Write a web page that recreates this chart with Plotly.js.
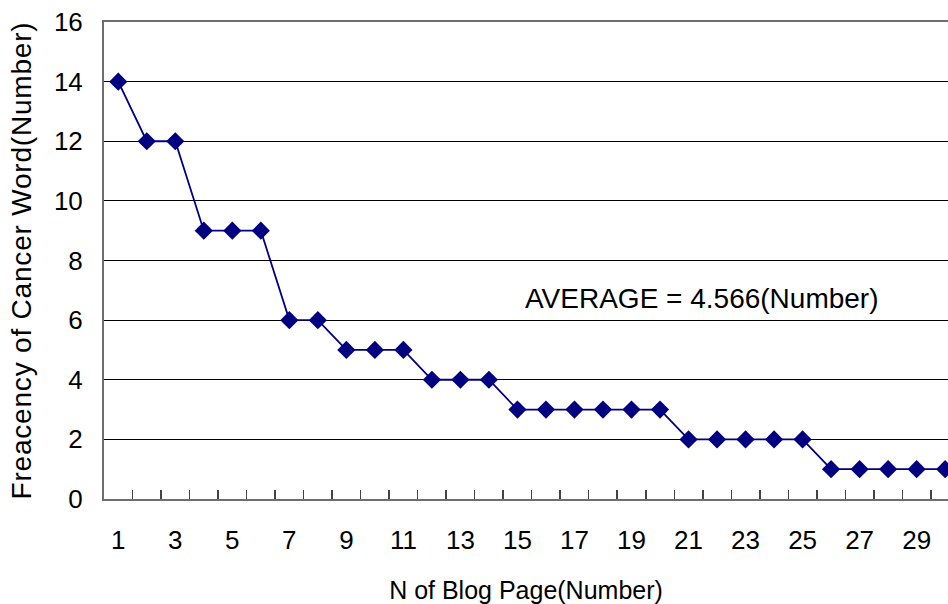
<!DOCTYPE html>
<html>
<head>
<meta charset="utf-8">
<script src="https://cdn.plot.ly/plotly-3.0.1.min.js"></script>
<style>
html,body{margin:0;padding:0;background:#fff;overflow:hidden;}
.ytitle{letter-spacing:0.8px;}
</style>
</head>
<body>
<div id="chart" style="width:948px;height:604px;"></div>
<script>
// Data
const blogPages = [1,2,3,4,5,6,7,8,9,10,11,12,13,14,15,16,17,18,19,20,21,22,23,24,25,26,27,28,29,30];
const cancerWordFreq = [14,12,12,9,9,9,6,6,5,5,5,4,4,4,3,3,3,3,3,3,2,2,2,2,2,1,1,1,1,1];
const xTickLabels = [1,3,5,7,9,11,13,15,17,19,21,23,25,27,29];
const yTickValues = [0,2,4,6,8,10,12,14,16];
const averageText = 'AVERAGE = 4.566(Number)';
const xTitle = 'N of Blog Page(Number)';
const yTitle = 'Freacency of Cancer Word(Number)';

// ticks between categories
const betweenTicks = blogPages.slice(0, -1).map(v => v + 0.5);

const font = 'Liberation Sans, Arial, sans-serif';

const trace = {
  x: blogPages,
  y: cancerWordFreq,
  type: 'scatter',
  mode: 'lines+markers',
  line: {color: '#000080', width: 1.8},
  marker: {symbol: 'diamond', size: 14, color: '#000080'},
  hoverinfo: 'x+y'
};

const layout = {
  width: 948,
  height: 604,
  margin: {l: 104, r: 0, t: 22, b: 105},
  paper_bgcolor: '#fff',
  plot_bgcolor: '#fff',
  showlegend: false,
  font: {family: font, color: '#000'},
  xaxis: {
    range: [0.5, 30.1],
    tickmode: 'array',
    tickvals: xTickLabels,
    ticktext: xTickLabels.map(String),
    ticks: '',
    showgrid: false,
    zeroline: false,
    showline: true,
    mirror: true,
    linecolor: '#6e6e6e',
    linewidth: 2,
    tickfont: {size: 26, family: font, color: '#000'},
    ticklabelstandoff: 17,
    minor: {
      tickmode: 'array',
      tickvals: betweenTicks,
      ticks: 'inside',
      ticklen: 9,
      tickwidth: 1.5,
      tickcolor: '#444',
      showgrid: false
    },
    title: {text: xTitle, font: {size: 25, family: font, color: '#000'}, standoff: 27}
  },
  yaxis: {
    range: [0, 16],
    tickmode: 'array',
    tickvals: yTickValues,
    ticks: '',
    showgrid: true,
    gridcolor: '#000',
    gridwidth: 1,
    zeroline: false,
    showline: true,
    linecolor: '#6e6e6e',
    linewidth: 2,
    tickfont: {size: 26, family: font, color: '#000'},
    ticklabelstandoff: 14,
    title: {text: yTitle, font: {size: 28, family: font, color: '#000'}, standoff: 14}
  },
  annotations: [{
    x: 21.48,
    y: 6.74,
    xref: 'x',
    yref: 'y',
    text: averageText,
    showarrow: false,
    font: {size: 28, family: font, color: '#000'},
    bgcolor: '#fff'
  }]
};

Plotly.newPlot('chart', [trace], layout, {displayModeBar: false, staticPlot: true});
</script>
</body>
</html>
